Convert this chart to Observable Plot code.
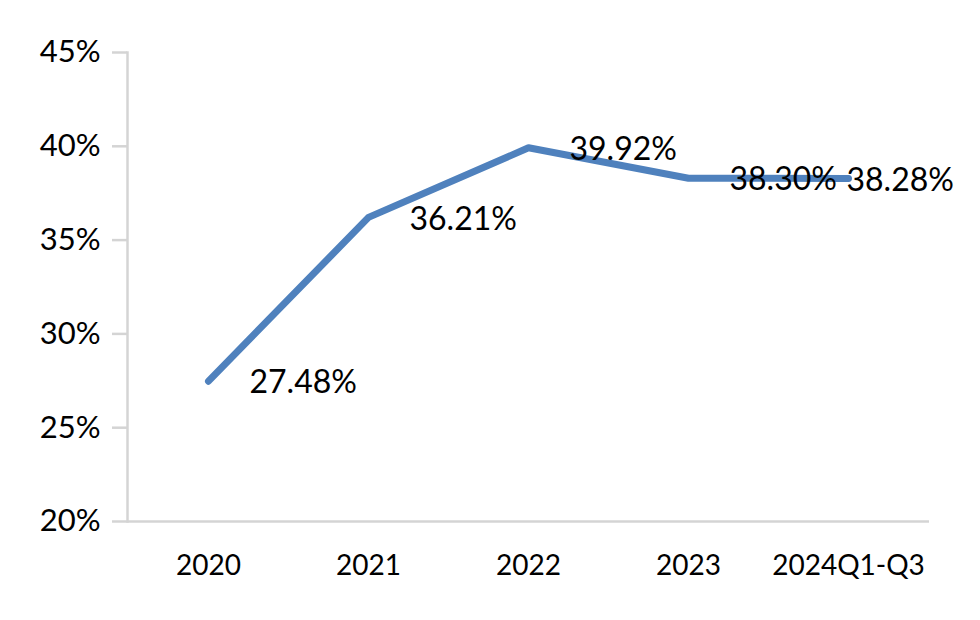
<!DOCTYPE html>
<html>
<head>
<meta charset="utf-8">
<script src="https://cdn.jsdelivr.net/npm/d3@7"></script>
<script src="https://cdn.jsdelivr.net/npm/@observablehq/plot@0.6"></script>
<style>
  html, body { margin: 0; padding: 0; background: #fff; }
  svg { font-family: Lato, "Open Sans", sans-serif; }
</style>
</head>
<body>
<div id="chart"></div>
<script>
const periods = ["2020", "2021", "2022", "2023", "2024Q1-Q3"];
const ratios = [27.48, 36.21, 39.92, 38.30, 38.28];
const yTicks = [20, 25, 30, 35, 40, 45];

const data = periods.map((p, i) => ({period: p, value: ratios[i], i}));
const axisColor = "#d4d4d4";

const chart = Plot.plot({
  width: 980,
  height: 620,
  marginTop: 52,
  marginBottom: 99,
  marginLeft: 127,
  marginRight: 51,
  style: {fontFamily: "Lato, 'Open Sans', sans-serif", background: "#fff", color: "#000"},
  x: {type: "point", domain: periods, padding: 0.5, label: null},
  y: {domain: [20, 45], label: null},
  marks: [
    Plot.frame({anchor: "left", stroke: axisColor, strokeWidth: 2.5}),
    Plot.ruleY([20], {stroke: axisColor, strokeWidth: 2.5, dx: 0}),
    Plot.axisY({ticks: yTicks, tickFormat: d => d + "%", tickSize: 15, tickPadding: 12,
      stroke: axisColor, strokeWidth: 2.5, fill: "#000", fontSize: 31, label: null}),
    Plot.axisX({tickSize: 0, tickPadding: 34, fill: "#000", fontSize: 28, label: null}),
    Plot.lineY(data, {x: "period", y: "value", stroke: "#4F81BD", strokeWidth: 7,
      strokeLinecap: "round", strokeLinejoin: "round"}),
    Plot.text(data.filter(d => d.i < 4), {x: "period", y: "value", text: d => d.value.toFixed(2) + "%",
      textAnchor: "start", lineAnchor: "middle", dx: 41, dy: 2, fontSize: 32, fill: "#000"}),
    Plot.text(data.filter(d => d.i === 4), {x: "period", y: "value", text: d => d.value.toFixed(2) + "%",
      textAnchor: "start", lineAnchor: "middle", dx: -2, dy: 2, fontSize: 32, fill: "#000"})
  ]
});
document.getElementById("chart").appendChild(chart);
</script>
</body>
</html>
